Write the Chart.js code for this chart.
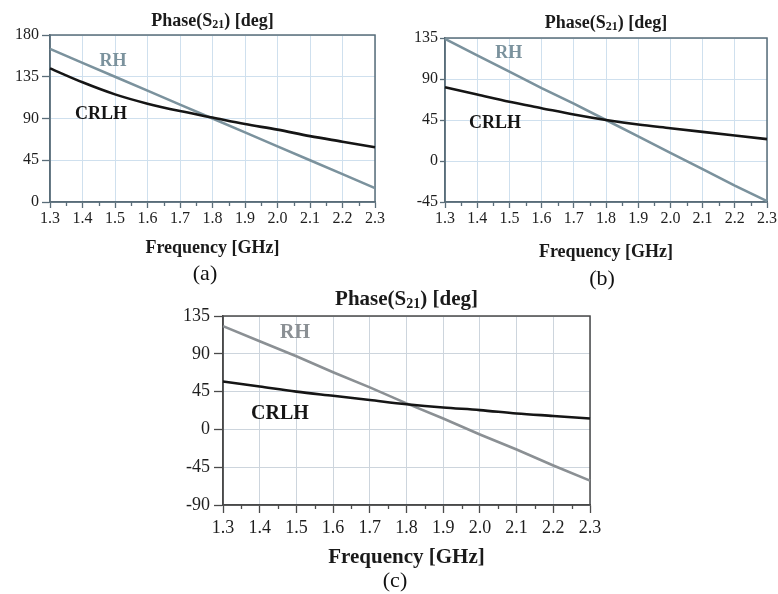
<!DOCTYPE html>
<html>
<head>
<meta charset="utf-8">
<script src="https://cdn.jsdelivr.net/npm/chart.js@4"></script>
<style>
  html,body{margin:0;padding:0;background:#fff;}
  #wrap{position:relative;width:778px;height:594px;background:#fff;overflow:hidden;}
  canvas{position:absolute;}
  .pl{position:absolute;font-family:'Liberation Serif','Times New Roman',serif;font-size:22px;color:#111;transform:translate(-50%,-50%);white-space:nowrap;}
</style>
</head>
<body>
<div id="wrap">
  <canvas id="ca" width="392" height="262" style="left:0;top:0"></canvas>
  <canvas id="cb" width="386" height="266" style="left:392px;top:0"></canvas>
  <canvas id="cc" width="470" height="290" style="left:150px;top:288px"></canvas>
  <div class="pl" style="left:205px;top:273px">(a)</div>
  <div class="pl" style="left:602px;top:278px">(b)</div>
  <div class="pl" style="left:395px;top:580px">(c)</div>
</div>
<script>
// ---- data ----
const freqLabels = ['1.3','1.4','1.5','1.6','1.7','1.8','1.9','2.0','2.1','2.2','2.3'];
const seriesNames = ['RH','CRLH'];
const titleMain = 'Phase(S';
const titleSub = '21';
const titleEnd = ') [deg]';
const xTitle = 'Frequency [GHz]';

const rhA   = [165,150,135,120,105,90,75,60,45,30,15];
const crlhA = [144,129,116,106,98,91,84,78,71,65,59];
const yTicksA = [0,45,90,135,180];

const rhB   = [134,116,98,80,63,45,27,9,-9,-27,-44];
const crlhB = [81,73,65,58,51,45,40,36,32,28,24];
const yTicksB = [-45,0,45,90,135];

const rhC   = [123,105,87,68,50,31,13,-6,-24,-43,-61];
const crlhC = [57,51,45,40,35,30,26,23,19,16,13];
const yTicksC = [-90,-45,0,45,90,135];

// label anchors (category index, value)
const labelPosA = {RH:[1.94,152], CRLH:[1.57,94]};
const labelPosB = {RH:[1.98,118], CRLH:[1.55,41]};
const labelPosC = {RH:[1.96,115], CRLH:[1.55,19]};

const SERIF = "'Liberation Serif','Times New Roman',serif";

const panelPlugin = {
  id: 'panel',
  beforeDatasetsDraw(chart, args, o) {
    const {ctx, chartArea: a} = chart;
    const x = chart.scales.x;
    ctx.save();
    ctx.strokeStyle = o.axisColor; ctx.lineWidth = 1.3;
    for (let i = 0; i < freqLabels.length - 1; i++) {
      const px = Math.round(x.getPixelForValue(i + 0.5)) + 0.5;
      ctx.beginPath(); ctx.moveTo(px, a.bottom); ctx.lineTo(px, a.bottom + o.minorLen); ctx.stroke();
    }
    ctx.lineWidth = 1.5;
    ctx.strokeRect(a.left, a.top, a.right - a.left, a.bottom - a.top);
    ctx.restore();
  },
  afterDraw(chart, args, o) {
    const {ctx, chartArea: a} = chart;
    const x = chart.scales.x, y = chart.scales.y;
    ctx.save();
    const f = o.titleSize, fs = Math.round(f * 0.68);
    ctx.fillStyle = '#1a1a1a';
    ctx.textBaseline = 'middle';
    ctx.textAlign = 'left';
    ctx.font = `bold ${f}px ${SERIF}`;
    const w1 = ctx.measureText(titleMain).width, w3 = ctx.measureText(titleEnd).width;
    ctx.font = `bold ${fs}px ${SERIF}`;
    const w2 = ctx.measureText(titleSub).width;
    let sx = (a.left + a.right) / 2 - (w1 + w2 + w3) / 2;
    ctx.font = `bold ${f}px ${SERIF}`;
    ctx.fillText(titleMain, sx, o.titleY);
    ctx.font = `bold ${fs}px ${SERIF}`;
    ctx.fillText(titleSub, sx + w1, o.titleY + f * 0.22);
    ctx.font = `bold ${f}px ${SERIF}`;
    ctx.fillText(titleEnd, sx + w1 + w2, o.titleY);
    ctx.textAlign = 'center';
    ctx.font = `bold ${o.labelSize}px ${SERIF}`;
    chart.data.datasets.forEach(ds => {
      const p = o.labels[ds.label];
      ctx.fillStyle = ds.borderColor;
      ctx.fillText(ds.label, x.getPixelForValue(p[0]), y.getPixelForValue(p[1]));
    });
    ctx.restore();
  }
};

function makeChart(id, rh, crlh, yTicks, s) {
  return new Chart(document.getElementById(id), {
    type: 'line',
    data: {
      labels: freqLabels,
      datasets: [
        {label: seriesNames[0], data: rh, borderColor: s.rhColor, borderWidth: 2.6, pointRadius: 0, tension: 0, order: 2},
        {label: seriesNames[1], data: crlh, borderColor: '#151515', borderWidth: 2.6, pointRadius: 0, cubicInterpolationMode: 'monotone', order: 1}
      ]
    },
    options: {
      responsive: false,
      animation: false,
      events: [],
      layout: {padding: s.padding},
      plugins: {
        legend: {display: false},
        tooltip: {enabled: false},
        panel: {axisColor: s.axisColor, minorLen: s.minorLen, titleSize: s.titleSize, titleY: s.titleY, labelSize: s.labelSize, labels: s.labels}
      },
      scales: {
        x: {
          type: 'category',
          offset: false,
          afterFit: sc => { sc.height = s.xHeight; },
          grid: {color: s.gridColor, lineWidth: 1, tickColor: s.axisColor, tickLength: s.xTickLen, tickWidth: 1.3},
          border: {color: s.axisColor, width: 1.5},
          ticks: {color: '#1e1e1e', font: {family: SERIF, size: s.tickSize}, padding: s.xTickPad, maxRotation: 0, autoSkip: false},
          title: {display: true, text: xTitle, color: '#1a1a1a', font: {family: SERIF, size: s.xTitleSize, weight: 'bold'}, padding: {top: 0, bottom: s.xTitlePad}}
        },
        y: {
          min: yTicks[0], max: yTicks[yTicks.length - 1],
          afterFit: sc => { sc.width = s.yWidth; },
          afterBuildTicks: sc => { sc.ticks = yTicks.map(v => ({value: v})); },
          grid: {color: s.gridColor, lineWidth: 1, tickColor: s.axisColor, tickLength: s.yTickLen, tickWidth: 1.3},
          border: {color: s.axisColor, width: 1.5},
          ticks: {color: '#1e1e1e', font: {family: SERIF, size: s.tickSize}, padding: s.yTickPad}
        }
      }
    },
    plugins: [panelPlugin]
  });
}

const abStyle = {
  rhColor: '#7b929d', axisColor: '#5a6d79', gridColor: '#cfe0ee',
  minorLen: 4, titleSize: 18, labelSize: 18, tickSize: 16, xTitleSize: 18,
  xTickLen: 6, xTickPad: 1, xTitlePad: 3, yTickLen: 8, yTickPad: 3
};

makeChart('ca', rhA, crlhA, yTicksA, Object.assign({}, abStyle, {
  padding: {left: 0, top: 35, right: 17, bottom: 0},
  xHeight: 60, yWidth: 50, titleY: 21, labels: labelPosA
}));

makeChart('cb', rhB, crlhB, yTicksB, Object.assign({}, abStyle, {
  padding: {left: 0, top: 38, right: 10, bottom: 0},
  xHeight: 64, yWidth: 53, titleY: 23, labels: labelPosB, yTickLen: 5, yTickPad: 2
}));

makeChart('cc', rhC, crlhC, yTicksC, {
  rhColor: '#8b9094', axisColor: '#4a4a4a', gridColor: '#cdd5dd',
  minorLen: 4, titleSize: 21, labelSize: 20, tickSize: 18, xTitleSize: 21,
  xTickLen: 8, xTickPad: 4, xTitlePad: 8, yTickLen: 9, yTickPad: 4,
  padding: {left: 0, top: 28, right: 30, bottom: 0},
  xHeight: 73, yWidth: 73, titleY: 12, labels: labelPosC
});
</script>
</body>
</html>
